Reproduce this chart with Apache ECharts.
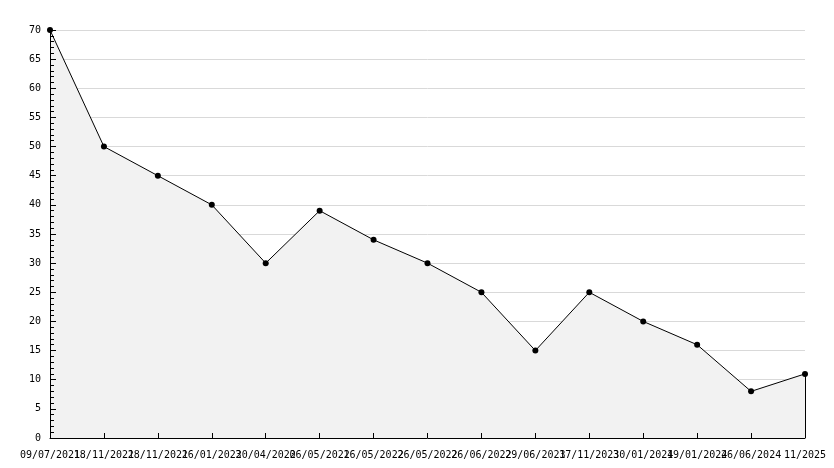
<!DOCTYPE html>
<html><head><meta charset="utf-8">
<script src="https://cdn.jsdelivr.net/npm/echarts@6/dist/echarts.min.js"></script>
<style>html,body{margin:0;padding:0;background:#fff}#c{width:834px;height:468px}</style>
</head><body><div id="c"></div>
<script>
const categories = ["09/07/2021","18/11/2021","28/11/2021","26/01/2022","30/04/2022","06/05/2022","16/05/2022","26/05/2022","26/06/2022","29/06/2023","17/11/2023","30/01/2024","19/01/2024","26/06/2024","11/2025"];
const values = [70,50,45,40,30,39,34,30,25,15,25,20,16,8,11];
const yTicks = {min:0, max:70, interval:5};

const font = {fontFamily:'DejaVu Sans Mono', fontSize:10, color:'#000'};
const chart = echarts.init(document.getElementById('c'), null, {renderer:'canvas'});
const last = categories.length - 1;
chart.setOption({
  animation:false,
  grid:{left:50, right:29, top:30, bottom:30, containLabel:false},
  xAxis:{type:'category', data:categories, boundaryGap:false, z:5,
    axisLine:{lineStyle:{color:'#000', width:1}},
    axisTick:{inside:true, length:5, alignWithLabel:true, interval:0, lineStyle:{color:'#000'}},
    axisLabel:Object.assign({interval:0, hideOverlap:false, margin:12}, font),
    splitLine:{show:false}},
  yAxis:[
    {type:'value', min:yTicks.min, max:yTicks.max, interval:yTicks.interval, z:0,
      axisLine:{show:false}, axisTick:{show:false}, axisLabel:{show:false},
      splitLine:{show:true, lineStyle:{color:'#d9d9d9', width:1}}},
    {type:'value', min:yTicks.min, max:yTicks.max, interval:yTicks.interval, z:5, position:'left',
      axisLine:{show:true, lineStyle:{color:'#000', width:1}},
      axisTick:{show:true, inside:true, length:6, lineStyle:{color:'#000'}},
      minorTick:{show:true, splitNumber:5, length:4, lineStyle:{color:'#000'}},
      axisLabel:Object.assign({margin:9}, font),
      splitLine:{show:false}}
  ],
  series:[{type:'line', data:values, yAxisIndex:0, symbol:'circle', symbolSize:6,
    itemStyle:{color:'#000'}, lineStyle:{color:'#000', width:1},
    areaStyle:{color:'#f2f2f2', opacity:1},
    markLine:{silent:true, symbol:'none', label:{show:false},
      lineStyle:{color:'#000', width:1, type:'solid'},
      data:[[{coord:[last,0]},{coord:[last,values[last]]}]]}}]
});
</script></body></html>
